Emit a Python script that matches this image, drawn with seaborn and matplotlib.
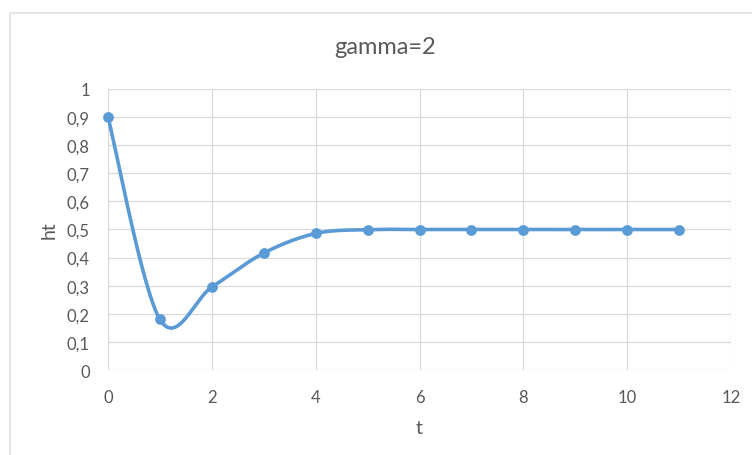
import numpy as np
import pandas as pd
import matplotlib
matplotlib.use("Agg")
import matplotlib.pyplot as plt
import matplotlib.ticker as mticker
from matplotlib.lines import Line2D
import seaborn as sns

# Values
t = [0, 1, 2, 3, 4, 5, 6, 7, 8, 9, 10, 11]
ht = [0.9, 0.18, 0.2952, 0.4161, 0.4859, 0.4996, 0.5, 0.5, 0.5, 0.5, 0.5, 0.5]
title = "gamma=2"

df = pd.DataFrame({"t": t, "ht": ht})


def smooth(xs, ys, n=40):
    # Excel-like smoothed line: Catmull-Rom segments as cubic Bezier curves
    p = np.column_stack([xs, ys]).astype(float)
    p = np.vstack([p[0], p, p[-1]])
    out = []
    for i in range(1, len(p) - 2):
        p0, p1, p2, p3 = p[i - 1], p[i], p[i + 1], p[i + 2]
        b1 = p1 + (p2 - p0) / 6
        b2 = p2 - (p3 - p1) / 6
        s = np.linspace(0, 1, n)[:, None]
        seg = ((1 - s) ** 3) * p1 + 3 * ((1 - s) ** 2) * s * b1 + 3 * (1 - s) * s ** 2 * b2 + s ** 3 * p2
        out.append(seg if i == 1 else seg[1:])
    c = np.vstack(out)
    return c[:, 0], c[:, 1]


sns.set_style("white")
plt.rcParams["font.family"] = ["Lato", "DejaVu Sans"]

grey = "#595959"
blue = "#5B9BD5"

fig = plt.figure(figsize=(7.52, 4.56), dpi=100)
ax = fig.add_axes([108 / 752, 1 - 371 / 456, (731 - 108) / 752, (371 - 90) / 456])

sx, sy = smooth(df["t"], df["ht"])
sns.lineplot(x=sx, y=sy, sort=False, color=blue, linewidth=2.6, ax=ax, zorder=3)
sns.scatterplot(data=df, x="t", y="ht", color=blue, s=60, edgecolor=blue,
                linewidth=0, ax=ax, zorder=4, clip_on=False)

ax.set_xlim(0, 12)
ax.set_ylim(0, 1)
ax.xaxis.set_major_locator(mticker.MultipleLocator(2))
ax.yaxis.set_major_locator(mticker.MultipleLocator(0.1))
ax.yaxis.set_major_formatter(mticker.FuncFormatter(
    lambda v, _: "0" if abs(v) < 1e-9 else ("1" if abs(v - 1) < 1e-9 else f"{v:.1f}".replace(".", ","))))
ax.grid(True, color="#d9d9d9", linewidth=0.9)
ax.set_axisbelow(True)
for s in ax.spines.values():
    s.set_visible(False)
ax.tick_params(axis="both", length=0, labelsize=12, labelcolor=grey)
ax.tick_params(axis="x", pad=14)
ax.tick_params(axis="y", pad=13)

ax.set_xlabel("t", fontsize=14, color=grey, labelpad=10)
ax.set_ylabel("ht", fontsize=14, color=grey, labelpad=7)
fig.text(385 / 752, 1 - 47 / 456, title, fontsize=17, color=grey, ha="center", va="center")

# chart frame of the screenshot
fig.add_artist(Line2D([10 / 752, 1], [1 - 14 / 456, 1 - 14 / 456], color="#e0e0e0", lw=1.2))
fig.add_artist(Line2D([10 / 752, 10 / 752], [0, 1 - 14 / 456], color="#e0e0e0", lw=1.2))

plt.savefig("out.png", dpi=100)
